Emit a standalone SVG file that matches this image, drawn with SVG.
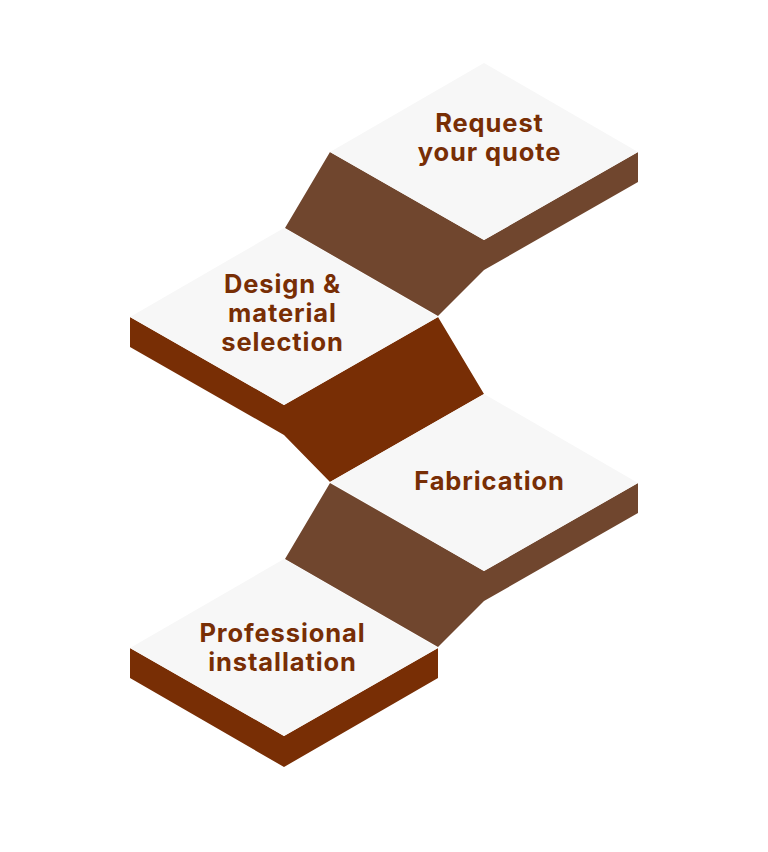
<svg xmlns="http://www.w3.org/2000/svg" width="768" height="852" viewBox="0 0 768 852">
<style>
.top{fill:#f7f7f7}
.lb{fill:#70462e}
.db{fill:#782e05}
.t{font-family:Inter,"Liberation Sans",sans-serif;font-weight:750;font-size:25.5px;letter-spacing:0.9px;fill:#782e05;text-anchor:middle}
</style>
<rect width="768" height="852" fill="#ffffff"/>
<g id="connectors">
<polygon class="lb" points="330,152 484,240 638,152 638,182 484,270 438,316 285,228"/>
<polygon class="db" points="130,317 284,405 438,317 484,394 330,482 284,435 130,347"/>
<polygon class="lb" points="330,483 484,571 638,483 638,513 484,601 438,647 285,559"/>
<polygon class="db" points="130,648 284,736 438,648 438,678 284,767 130,678"/>
</g>
<g id="step1">
<polygon class="top" points="484,63 638,152 484,240 330,152"/>
<text class="t" x="489.5" y="132">Request</text>
<text class="t" x="489.5" y="161">your quote</text>
</g>
<g id="step2">
<polygon class="top" points="284,228 438,317 284,405 130,317"/>
<text class="t" x="282.5" y="293">Design &amp;</text>
<text class="t" x="282.5" y="322">material</text>
<text class="t" x="282.5" y="351">selection</text>
</g>
<g id="step3">
<polygon class="top" points="484,394 638,483 484,571 330,482"/>
<text class="t" x="489.5" y="490">Fabrication</text>
</g>
<g id="step4">
<polygon class="top" points="284,559 438,648 284,736 130,648"/>
<text class="t" x="282.5" y="642">Professional</text>
<text class="t" x="282.5" y="671">installation</text>
</g>
</svg>
